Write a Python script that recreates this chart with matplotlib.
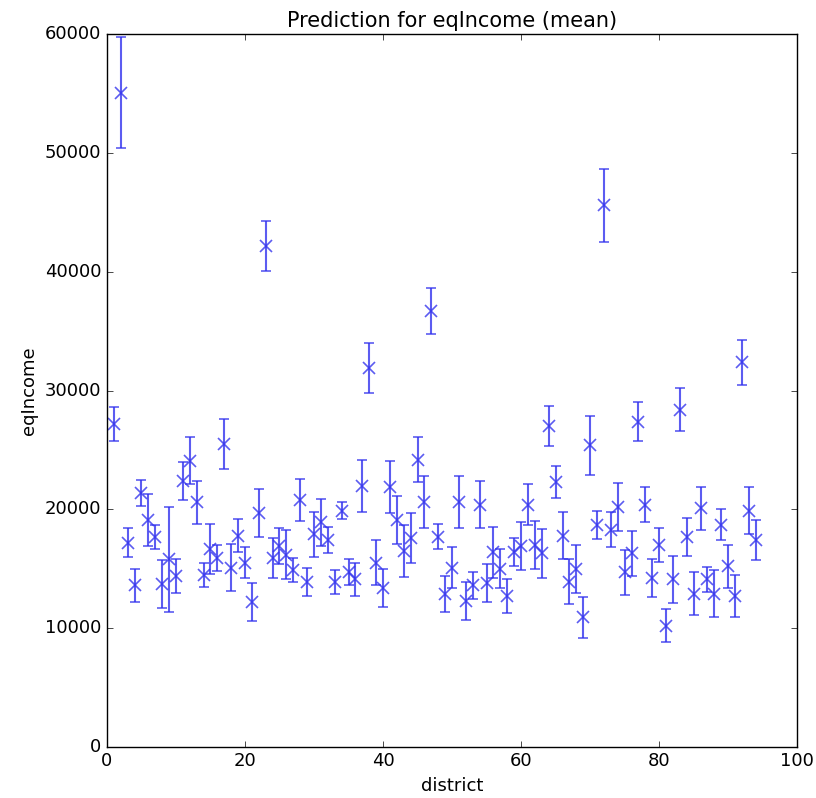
import numpy as np
import matplotlib
matplotlib.use("Agg")
import matplotlib.pyplot as plt

plt.style.use("classic")

# district numbers and predicted mean eqIncome with error
district = list(range(1, 95))
mean_income = [
    27200, 55100, 17200, 13600, 21400, 19100, 17700, 13700, 15800, 14400,
    22400, 24100, 20600, 14500, 16700, 15900, 25500, 15100, 17800, 15500,
    12200, 19700, 42200, 15900, 16900, 16200, 14900, 20800, 13900, 17900,
    18900, 17400, 13900, 19900, 14700, 14100, 22000, 31900, 15500, 13400,
    21900, 19100, 16500, 17600, 24200, 20600, 36700, 17700, 12900, 15100,
    20600, 12300, 13600, 20400, 13800, 16400, 15000, 12700, 16400, 16900,
    20400, 17000, 16300, 27000, 22300, 17800, 13900, 15000, 10900, 25400,
    18700, 45600, 18300, 20200, 14700, 16300, 27400, 20400, 14200, 17000,
    10200, 14100, 28400, 17700, 12900, 20100, 14100, 12900, 18700, 15200,
    12700, 32400, 19900, 17400,
]
income_err = [
    1400, 4700, 1200, 1400, 1100, 2200, 1000, 2000, 4400, 1400,
    1600, 2000, 1800, 1000, 2100, 1100, 2100, 2000, 1400, 1300,
    1600, 2000, 2100, 1700, 1500, 2100, 1000, 1800, 1200, 1900,
    2000, 1100, 1000, 700, 1100, 1400, 2200, 2100, 1900, 1600,
    2200, 2000, 2200, 2100, 1900, 2200, 1950, 1050, 1500, 1700,
    2200, 1600, 1150, 2000, 1600, 2150, 1650, 1400, 1150, 2000,
    1700, 2000, 2050, 1700, 1350, 2000, 1900, 2000, 1750, 2500,
    1200, 3100, 1500, 2050, 1900, 1900, 1600, 1450, 1600, 1400,
    1400, 1950, 1800, 1600, 1800, 1800, 1050, 2000, 1300, 1800,
    1800, 1900, 2000, 1700,
]

fig = plt.figure(figsize=(8.16, 7.98), dpi=100, facecolor="white")
ax = fig.add_axes([0.131, 0.064, 0.846, 0.893])
ax.set_facecolor("white")

ax.errorbar(district, mean_income, yerr=income_err, fmt="x", color="#3333ee",
            ecolor="#3333ee", alpha=0.8, markersize=8, markeredgewidth=1.2,
            elinewidth=1.5, capsize=3.5, capthick=1.2)

ax.set_xlim(0, 100)
ax.set_ylim(0, 60000)
ax.set_xticks(np.arange(0, 101, 20))
ax.set_yticks(np.arange(0, 60001, 10000))
ax.tick_params(labelsize=13)
ax.set_xlabel("district", fontsize=13)
ax.set_ylabel("eqIncome", fontsize=13)
ax.set_title("Prediction for eqIncome (mean)", fontsize=15)

fig.savefig("out.png", dpi=100, facecolor="white")
